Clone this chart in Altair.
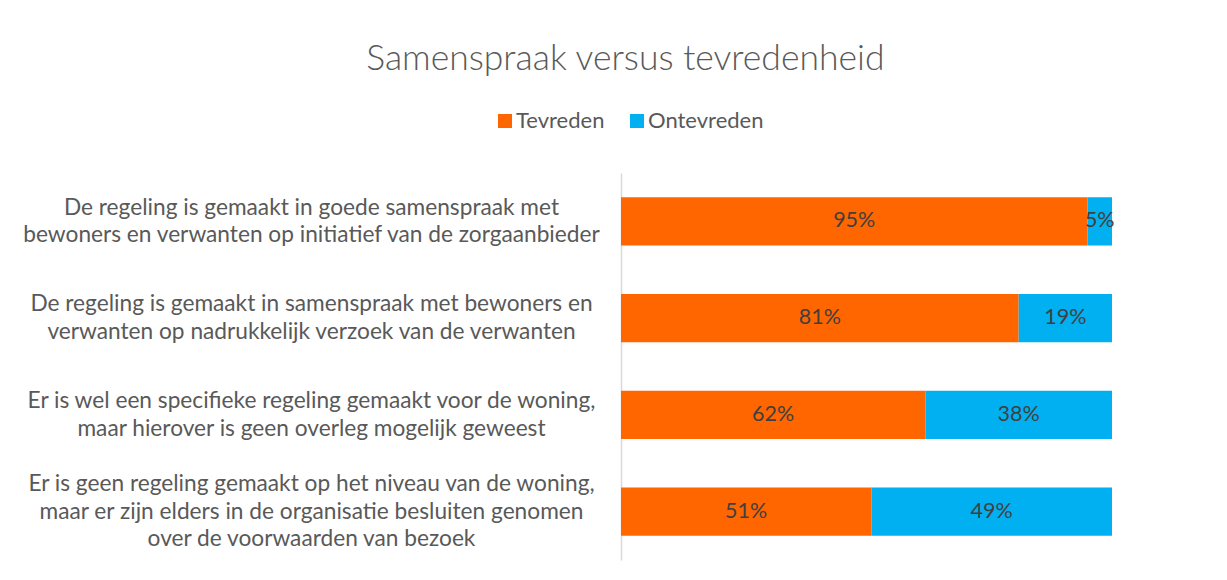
import altair as alt
import pandas as pd

categories = [
    "De regeling is gemaakt in goede samenspraak met|bewoners en verwanten op initiatief van de zorgaanbieder",
    "De regeling is gemaakt in samenspraak met bewoners en|verwanten op nadrukkelijk verzoek van de verwanten",
    "Er is wel een specifieke regeling gemaakt voor de woning,|maar hierover is geen overleg mogelijk geweest",
    "Er is geen regeling gemaakt op het niveau van de woning,|maar er zijn elders in de organisatie besluiten genomen|over de voorwaarden van bezoek",
]
series = ["Tevreden", "Ontevreden"]
tevreden = [95, 81, 62, 51]
ontevreden = [5, 19, 38, 49]
colors = ["#FF6600", "#00B0F0"]

rows = []
for i, c in enumerate(categories):
    rows.append({"cat": c, "series": series[0], "value": tevreden[i], "order": 0})
    rows.append({"cat": c, "series": series[1], "value": ontevreden[i], "order": 1})
df = pd.DataFrame(rows)

FONT = "Lato"
LH = 27.5

base = alt.Chart(df).transform_stack(
    stack="value", groupby=["cat"], as_=["x0", "x1"], sort=[alt.SortField("order")]
).transform_calculate(
    mid="(datum.x0 + datum.x1) / 2",
    lbl="datum.value + '%'",
)

y_enc = alt.Y(
    "cat:N",
    sort=categories,
    title=None,
    scale=alt.Scale(paddingInner=0.5, paddingOuter=0.25),
    axis=alt.Axis(
        labelExpr="split(datum.label, '|')",
        labelAlign="center",
        labelBaseline="middle",
        labelOffset=alt.ExprRef(f"-(length(split(datum.label, '|')) - 1) * {LH / 2}"),
        labelPadding=310,
        labelLimit=800,
        labelFont=FONT,
        labelFontSize=22.7,
        labelLineHeight=LH,
        labelColor="#595959",
        ticks=False,
        domainColor="#D9D9D9",
        domainWidth=1.5,
        grid=False,
    ),
)

bars = base.mark_bar().encode(
    y=y_enc,
    x=alt.X("x0:Q", scale=alt.Scale(domain=[0, 100]), axis=None),
    x2="x1:Q",
    color=alt.Color(
        "series:N",
        scale=alt.Scale(domain=series, range=colors),
        legend=alt.Legend(
            title=None,
            orient="none",
            direction="horizontal",
            legendX=-127,
            legendY=-63,
            symbolType="square",
            symbolSize=196,
            symbolStrokeWidth=0,
            labelFont=FONT,
            labelFontSize=22,
            labelColor="#595959",
            columnPadding=21,
            labelOffset=0,
        ),
    ),
)

text = base.mark_text(font=FONT, fontSize=21.5, color="#404040").encode(
    y=alt.Y("cat:N", sort=categories),
    x=alt.X("mid:Q"),
    text="lbl:N",
)

chart = alt.layer(bars, text).properties(
    width=491,
    height=387,
    padding={"left": 14, "top": 33, "right": 5, "bottom": 5},
    title=alt.TitleParams(
        "Samenspraak versus tevredenheid",
        font=FONT,
        fontSize=35.5,
        fontWeight=300,
        color="#595959",
        anchor="middle",
        frame="bounds",
        offset=33,
        dx=57,
    ),
).configure(background="white", view=alt.ViewConfig(stroke="transparent", strokeWidth=0))

chart.save("out.html", embed_options={"renderer": "svg", "actions": False})
